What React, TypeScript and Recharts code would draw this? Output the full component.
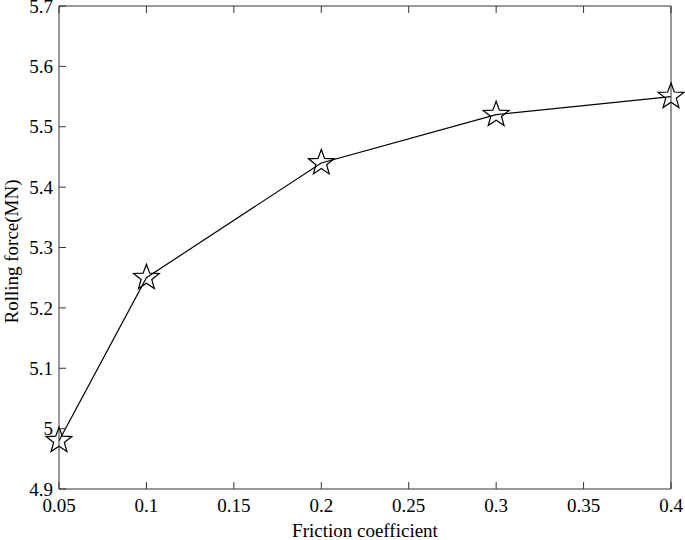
import { LineChart, Line, XAxis, YAxis, Label } from "recharts";

const frictionValues = [0.05, 0.1, 0.2, 0.3, 0.4];
const rollingForce = [4.98, 5.25, 5.44, 5.52, 5.55];
const xTicks = [0.05, 0.1, 0.15, 0.2, 0.25, 0.3, 0.35, 0.4];
const yTicks = [4.9, 5.0, 5.1, 5.2, 5.3, 5.4, 5.5, 5.6, 5.7];

const data = frictionValues.map((f, i) => ({ f, force: rollingForce[i] }));

const FONT = "'Liberation Serif', 'Times New Roman', serif";
const AXIS = "#333333";
const FS = 19;
const X_DOMAIN: [number, number] = [0.05, 0.4];
const Y_DOMAIN: [number, number] = [4.9, 5.7];

function StarDot(props: { cx?: number; cy?: number }) {
  const { cx, cy } = props;
  if (cx == null || cy == null) return null;
  const outer = 13.5;
  const inner = 5.6;
  const pts: string[] = [];
  for (let k = 0; k < 10; k++) {
    const r = k % 2 === 0 ? outer : inner;
    const a = -Math.PI / 2 + (k * Math.PI) / 5;
    pts.push(`${cx + r * Math.cos(a)},${cy + r * Math.sin(a)}`);
  }
  return <polygon points={pts.join(" ")} fill="none" stroke="#000" strokeWidth={1.2} />;
}

const fmtY = (v: number) => String(Math.round(v * 10) / 10);
const fmtX = (v: number) => String(Math.round(v * 100) / 100);

const renderXTick = (props: any) => (
  <text
    x={props.x}
    y={props.y}
    dy="0.71em"
    textAnchor="middle"
    fill="#000"
    style={{ fontFamily: FONT, fontSize: FS }}
  >
    {fmtX(props.payload.value)}
  </text>
);

const renderYTick = (props: any) => (
  <text
    x={props.x}
    y={props.y}
    dy="0.35em"
    textAnchor="end"
    fill="#000"
    style={{ fontFamily: FONT, fontSize: FS }}
  >
    {fmtY(props.payload.value)}
  </text>
);

// frame axes only draw their line and inward tick marks
const noLabel = () => <g />;

function XTitle(props: any) {
  const vb = props.viewBox;
  return (
    <text
      x={vb.x + vb.width / 2}
      y={537}
      textAnchor="middle"
      fill="#000"
      style={{ fontFamily: FONT, fontSize: FS }}
    >
      Friction coefficient
    </text>
  );
}

function YTitle(props: any) {
  const vb = props.viewBox;
  const x = 11;
  const y = vb.y + vb.height / 2 + 4;
  return (
    <text
      x={x}
      y={y}
      transform={`rotate(-90, ${x}, ${y})`}
      textAnchor="middle"
      dominantBaseline="central"
      fill="#000"
      style={{ fontFamily: FONT, fontSize: FS }}
    >
      Rolling force(MN)
    </text>
  );
}

export default function App() {
  return (
    <div style={{ position: "absolute", left: 0, top: 0, width: 685, height: 540, background: "#fff" }}>
      <LineChart
        width={685}
        height={540}
        data={data}
        margin={{ top: 6, right: 14, bottom: 0, left: 0 }}
      >
        <XAxis
          xAxisId="bottom"
          dataKey="f"
          type="number"
          domain={X_DOMAIN}
          ticks={xTicks}
          interval={0}
          tick={renderXTick}
          stroke={AXIS}
          tickSize={-7}
          tickMargin={17}
          height={51}
        >
          <Label content={XTitle} />
        </XAxis>
        <YAxis
          yAxisId="left"
          type="number"
          domain={Y_DOMAIN}
          ticks={yTicks}
          interval={0}
          tick={renderYTick}
          stroke={AXIS}
          tickSize={-7}
          tickMargin={13}
          width={59}
        >
          <Label content={YTitle} />
        </YAxis>
        <XAxis
          xAxisId="topTicks"
          orientation="top"
          mirror
          dataKey="f"
          type="number"
          domain={X_DOMAIN}
          ticks={xTicks}
          interval={0}
          tick={noLabel}
          stroke={AXIS}
          tickSize={7}
          height={10}
        />
        <YAxis
          yAxisId="rightTicks"
          orientation="right"
          mirror
          type="number"
          domain={Y_DOMAIN}
          ticks={yTicks}
          interval={0}
          tick={noLabel}
          stroke={AXIS}
          tickSize={7}
          width={10}
        />
        <Line
          xAxisId="bottom"
          yAxisId="left"
          type="linear"
          dataKey="force"
          stroke="#000"
          strokeWidth={1.2}
          dot={<StarDot />}
          activeDot={false}
          isAnimationActive={false}
        />
      </LineChart>
    </div>
  );
}
